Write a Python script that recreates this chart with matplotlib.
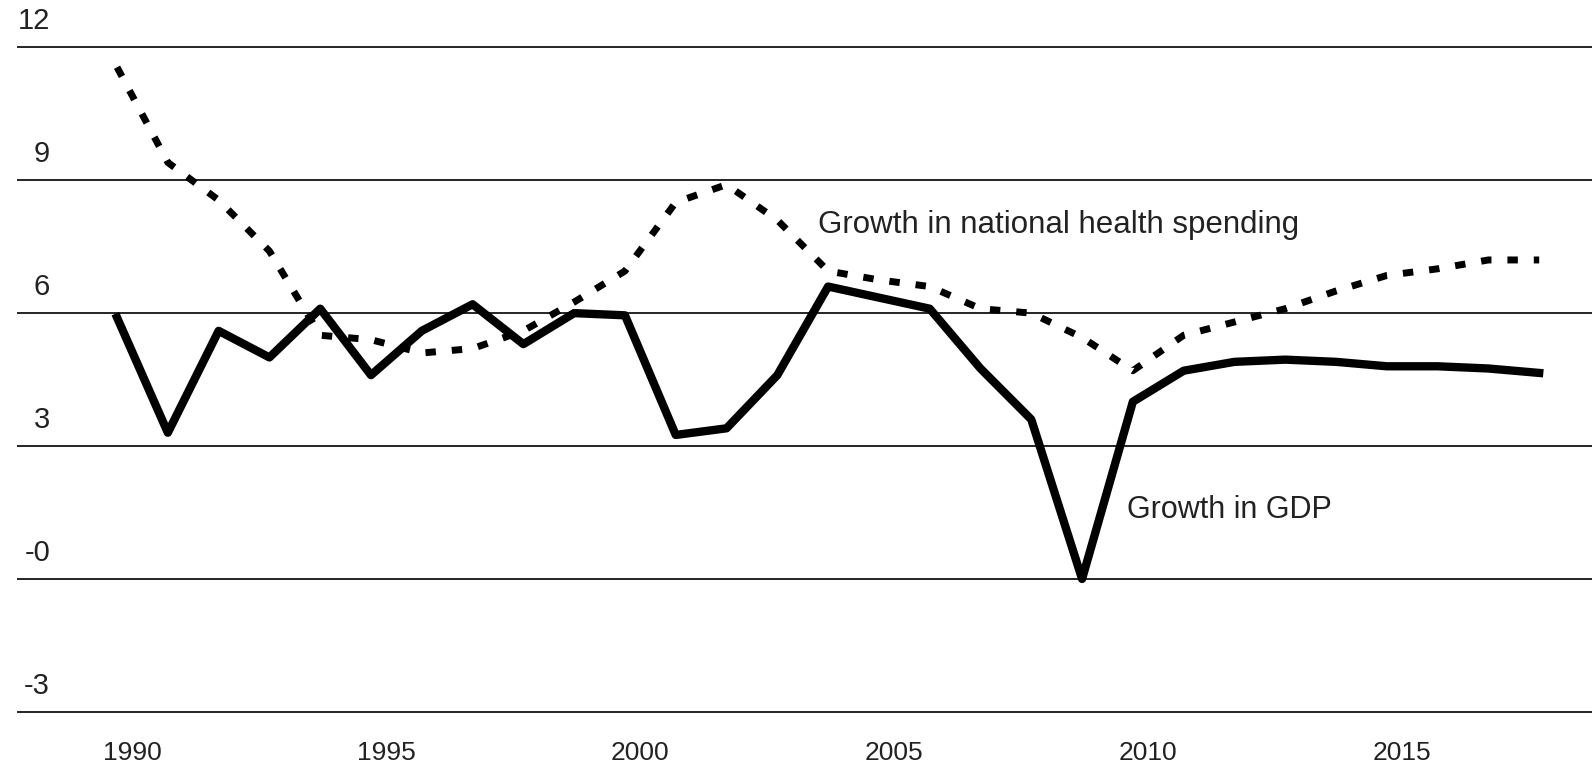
import matplotlib
matplotlib.use("Agg")
import matplotlib.pyplot as plt
import matplotlib.transforms as mtransforms

plt.rcParams["font.family"] = ["Liberation Sans", "DejaVu Sans"]

years = list(range(1990, 2019))
gdp_growth = [5.9, 3.3, 5.6, 5.0, 6.1, 4.6, 5.6, 6.2, 5.3, 6.0,
              5.95, 3.25, 3.4, 4.6, 6.6, 6.35, 6.1, 4.75, 3.6, 0.0,
              4.0, 4.7, 4.9, 4.95, 4.9, 4.8, 4.8, 4.75, 4.65]
health_growth = [11.55, 9.4, 8.55, 7.4, 5.5, 5.4, 5.1, 5.2, 5.6, 6.25,
                 6.95, 8.5, 8.9, 8.1, 6.95, 6.75, 6.6, 6.1, 6.0, 5.45,
                 4.7, 5.5, 5.8, 6.1, 6.5, 6.85, 7.0, 7.2, 7.2]
y_ticks = [12, 9, 6, 3, 0, -3]
y_tick_labels = ["12", "9", "6", "3", "-0", "-3"]
x_ticks = [1990, 1995, 2000, 2005, 2010, 2015]

fig = plt.figure(figsize=(15.92, 7.66), dpi=100)
ax = fig.add_axes([17 / 1592, 32 / 766, 1 - 17 / 1592, 731 / 766])
ax.set_xlim(1988.03, 2019.04)
ax.set_ylim(-3.5, 13.0)

for v in y_ticks:
    ax.axhline(v, color="black", linewidth=1.2, zorder=1)

ax.plot(years, gdp_growth, color="black", linewidth=6, solid_joinstyle="round", zorder=3)
ax.plot(years, health_growth, color="black", linewidth=5, linestyle=(0, (1.5, 2.3)), zorder=3)

# y labels sit above their gridlines, inside the plot
label_trans = mtransforms.offset_copy(
    mtransforms.blended_transform_factory(ax.transAxes, ax.transData),
    fig=fig, x=0, y=26, units="dots")
for v, lab in zip(y_ticks, y_tick_labels):
    ax.text(33 / 1575, v, lab, transform=label_trans, ha="right", va="center",
            fontsize=21, color="#222222")

ax.text(2003.8, 7.98, "Growth in national health spending", ha="left", va="center",
        fontsize=22.5, color="#222222")
ax.text(2009.88, 1.55, "Growth in GDP", ha="left", va="center",
        fontsize=22, color="#222222")

ax.set_xticks(x_ticks)
ax.set_xticklabels([str(x) for x in x_ticks], fontsize=19, color="#222222")
ax.set_yticks([])
ax.tick_params(axis="x", length=0, pad=5)
shift = mtransforms.ScaledTranslation(15 / 100, 0, fig.dpi_scale_trans)
for lab in ax.get_xticklabels():
    lab.set_transform(lab.get_transform() + shift)

for spine in ax.spines.values():
    spine.set_visible(False)

fig.savefig("out.png", dpi=100)
